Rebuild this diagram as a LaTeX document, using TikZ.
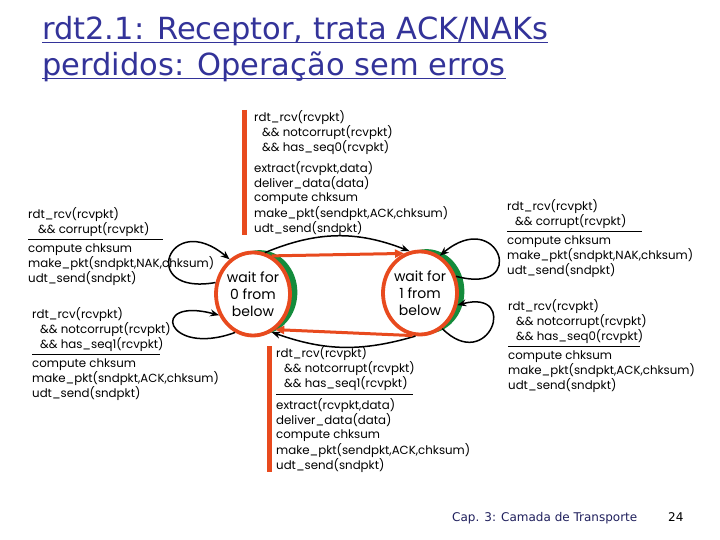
\documentclass[tikz,border=0pt]{standalone}
\usepackage{fontspec}
\setmainfont{DejaVu Sans}
\newfontfamily\fsmfont{Poppins}
\usetikzlibrary{arrows.meta,positioning,shapes.geometric,shadows}
\definecolor{rdtorange}{RGB}{232,74,30}
\definecolor{rdtgreen}{RGB}{20,140,60}
\definecolor{rdtblue}{RGB}{51,51,153}

\begin{document}
\begin{tikzpicture}[x=1pt,y=1pt,
    state/.style={ellipse, draw=rdtorange, line width=3.8pt, fill=white,
      minimum width=74pt, minimum height=83pt, inner sep=0pt, align=center,
      font=\fsmfont\fontsize{14}{17}\selectfont,
      general shadow={fill=rdtgreen, shadow xshift=6.5pt, shadow yshift=1.5pt, shadow scale=1.02}},
    evt/.style={anchor=north west, inner sep=0pt, align=left,
      font=\fsmfont\fontsize{11.8}{14}\selectfont},
    trans/.style={-{Stealth[length=9pt,width=7pt]}, line width=1.5pt},
    hl/.style={-{Triangle[length=9pt,width=8pt]}, draw=rdtorange, line width=3pt},
    sepline/.style={line width=1.6pt},
    bar/.style={draw=rdtorange, line width=5pt},
    ttl/.style={anchor=base west, inner sep=0pt, text=rdtblue,
      font=\fontsize{30.5}{36}\selectfont},
    ]
\useasboundingbox (0,0) rectangle (720,-540);

% title
\node[ttl] (t1) at (42,-40) {rdt2.1: Receptor, trata ACK/NAKs};
\node[ttl] (t2) at (42,-76) {perdidos: Operação sem erros};
\foreach \t in {t1,t2}
    \draw[rdtblue, line width=1.5pt] ([yshift=-2.5pt]\t.base west) -- ([yshift=-2.5pt]\t.base east);

% states
\node[state] (w0) at (253,-294) {wait for\\0 from\\below};
\node[state] (w1) at (420,-293) {wait for\\1 from\\below};

\draw[trans] (w0.74) to[bend left=22] (w1.104);
\draw[hl] (w0.64) -- (w1.112);
\draw[trans] (w1.-96) to[bend left=18] (w0.-64);
\draw[hl] (w1.-100) -- (w0.-58);

\foreach \s/\a/\b/\o/\i/\l in {w0/163/124/190/140/7.5, w0/245/212/200/165/8,
    w1/25/62/-15/40/7.5, w1/-58/-18/-45/15/6}
    \draw[trans] (\s.\a) to[out=\o, in=\i, looseness=\l] (\s.\b);

% top event
\node[evt] (tc) at (254,-110) {rdt\_rcv(rcvpkt)\\\hspace*{8pt}\&\& notcorrupt(rcvpkt)\\\hspace*{8pt}\&\& has\_seq0(rcvpkt)};
\node[evt, below=7pt of tc.south west, anchor=north west] (ta) {extract(rcvpkt,data)\\deliver\_data(data)\\compute chksum\\make\_pkt(sendpkt,ACK,chksum)\\udt\_send(sndpkt)};
\draw[bar] ([xshift=-10pt]tc.north west) -- ([xshift=-10pt]ta.south west);

% bottom event
\node[evt] (bc) at (276,-346) {rdt\_rcv(rcvpkt)\\\hspace*{8pt}\&\& notcorrupt(rcvpkt)\\\hspace*{8pt}\&\& has\_seq1(rcvpkt)};
\draw[sepline] ([yshift=-4pt]bc.south west) -- ++(137,0);
\node[evt, below=8pt of bc.south west, anchor=north west] (ba) {extract(rcvpkt,data)\\deliver\_data(data)\\compute chksum\\make\_pkt(sendpkt,ACK,chksum)\\udt\_send(sndpkt)};
\draw[bar] ([xshift=-7pt]bc.north west) -- ([xshift=-7pt]ba.south west);

% left events
\node[evt] (lc0) at (28,-207) {rdt\_rcv(rcvpkt)\\\hspace*{10pt}\&\& corrupt(rcvpkt)};
\draw[sepline] ([yshift=-3pt]lc0.south west) -- ++(135,0);
\node[evt, below=7pt of lc0.south west, anchor=north west] (la0) {compute chksum\\make\_pkt(sndpkt,NAK,chksum)\\udt\_send(sndpkt)};

\node[evt] (lc1) at (32,-307) {rdt\_rcv(rcvpkt)\\\hspace*{8pt}\&\& notcorrupt(rcvpkt)\\\hspace*{8pt}\&\& has\_seq1(rcvpkt)};
\draw[sepline] ([yshift=-3pt]lc1.south west) -- ++(128,0);
\node[evt, below=7pt of lc1.south west, anchor=north west] (la1) {compute chksum\\make\_pkt(sndpkt,ACK,chksum)\\udt\_send(sndpkt)};

% right events
\node[evt] (rc0) at (507,-199) {rdt\_rcv(rcvpkt)\\\hspace*{8pt}\&\& corrupt(rcvpkt)};
\draw[sepline] ([yshift=-3pt]rc0.south west) -- ++(135,0);
\node[evt, below=7pt of rc0.south west, anchor=north west] (ra0) {compute chksum\\make\_pkt(sndpkt,NAK,chksum)\\udt\_send(sndpkt)};

\node[evt] (rc1) at (508,-299) {rdt\_rcv(rcvpkt)\\\hspace*{8pt}\&\& notcorrupt(rcvpkt)\\\hspace*{8pt}\&\& has\_seq0(rcvpkt)};
\draw[sepline] ([yshift=-3pt]rc1.south west) -- ++(132,0);
\node[evt, below=7pt of rc1.south west, anchor=north west] (ra1) {compute chksum\\make\_pkt(sndpkt,ACK,chksum)\\udt\_send(sndpkt)};

% footer
\node[anchor=base west, inner sep=0pt, text=rdtblue!60!black, font=\fontsize{12}{14}\selectfont] (cap) at (452,-521) {Cap. 3: Camada de Transporte};
\node[anchor=base west, inner sep=0pt, font=\fontsize{12}{14}\selectfont] (pg) at (668,-521) {24};
\end{tikzpicture}
\end{document}
